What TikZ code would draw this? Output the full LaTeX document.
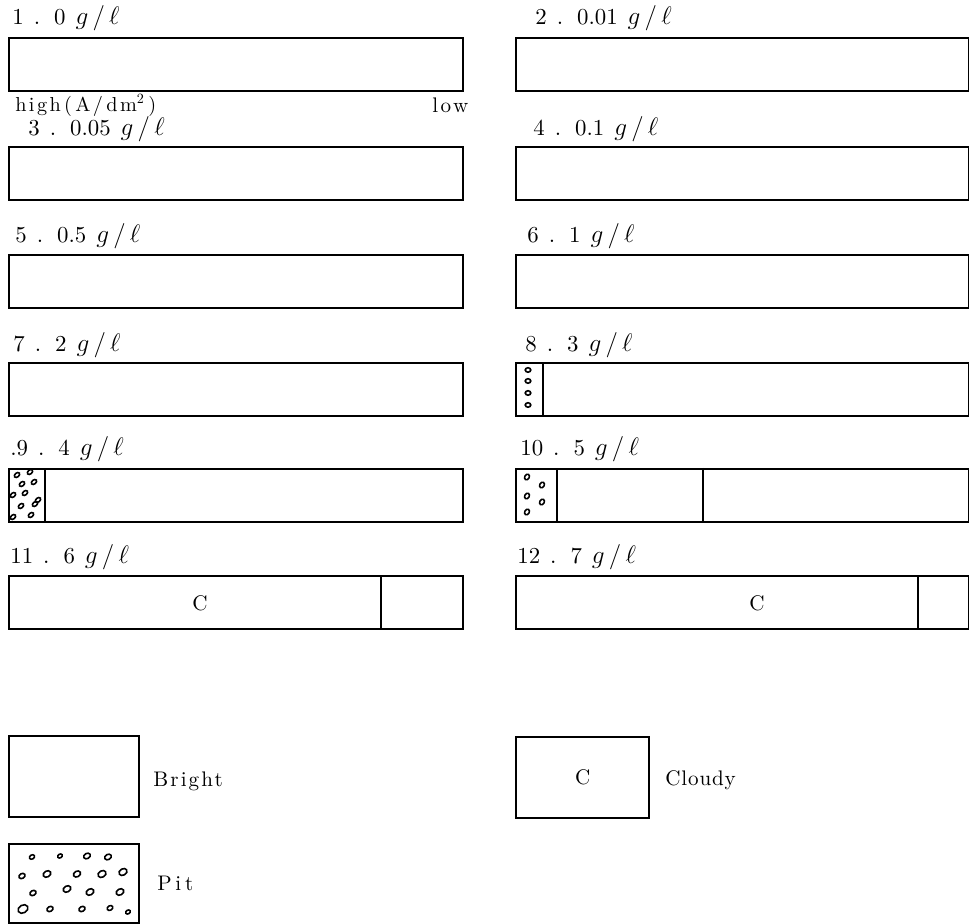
\documentclass[tikz,border=0pt]{standalone}
\usepackage{fontspec}
\setmainfont{lmroman10-regular.otf}[
  BoldFont=lmroman10-bold.otf,
  ItalicFont=lmroman10-italic.otf
]
\newcommand{\conc}[2]{#1\hspace{2mm}.\hspace{2.8mm}#2\hspace{2mm}{\fontsize{14pt}{16pt}\selectfont$g\,/\,\ell$}}
\tikzset{
  spaced/.style={font={\fontsize{12pt}{14pt}\selectfont\addfontfeature{LetterSpace=#1}}}
}
\begin{document}
\begin{tikzpicture}[
  x=0.2mm, y=-0.2mm,
  bar/.style={
    draw,
    line width=1.3pt,
    anchor=north west,
    inner sep=0pt,
    minimum height=10.6mm
  },
  lbl/.style={anchor=west, inner sep=0pt, font=\fontsize{13pt}{15pt}\selectfont},
  pit/.style={line width=0.9pt}
]
\useasboundingbox (0,0) rectangle (969,924);

\node[lbl] (l1) at (12,18) {\conc{1}{0}};
\node[lbl] (l2) at (535,18) {\conc{2}{0.01}};
\node[bar, minimum width=90.8mm] (b1) at (8,37) {};
\node[bar, minimum width=90.6mm] (b2) at (515,37) {};

\node[lbl, font={\fontsize{11.5pt}{13pt}\selectfont\addfontfeature{LetterSpace=12}}] (hi) at (15,105) {high\,(\,A/\,dm\textsuperscript{2}\,)};
\node[lbl, spaced=12] (lo) at (432,105) {low};

\node[lbl] (l3) at (28,129) {\conc{3}{0.05}};
\node[lbl] (l4) at (533,129) {\conc{4}{0.1}};
\node[bar, minimum width=90.8mm] (b3) at (8,146) {};
\node[bar, minimum width=90.6mm] (b4) at (515,146) {};

\node[lbl] (l5) at (15,236) {\conc{5}{0.5}};
\node[lbl] (l6) at (527,236) {\conc{6}{1}};
\node[bar, minimum width=90.8mm] (b5) at (8,254) {};
\node[bar, minimum width=90.6mm] (b6) at (515,254) {};

\node[lbl] (l7) at (13,345) {\conc{7}{2}};
\node[lbl] (l8) at (525,345) {\conc{8}{3}};
\node[bar, minimum width=90.8mm] (b7) at (8,362) {};
\node[bar, minimum width=90.6mm] (b8) at (515,362) {};
\node[bar, minimum width=5.4mm] (p8) at (515,362) {};

\node[lbl] (l9) at (10,449) {\conc{.9}{4}};
\node[lbl] (l10) at (520,449) {\conc{10}{5}};
\node[bar, minimum width=90.8mm] (b9) at (8,468) {};
\node[bar, minimum width=7.2mm] (p9) at (8,468) {};
\node[bar, minimum width=90.6mm] (b10) at (515,468) {};
\node[bar, minimum width=8.2mm] (p10) at (515,468) {};
\draw[line width=0.6pt] (703,468) -- (703,521);

\node[lbl] (l11) at (10,557) {\conc{11}{6}};
\node[lbl] (l12) at (517,557) {\conc{12}{7}};
\node[bar, minimum width=90.8mm] (b11) at (8,575) {};
\node[bar, minimum width=16.4mm] (r11) at (380,575) {};
\node[font=\fontsize{12pt}{14pt}\selectfont] (c11) at (200,603) {C};
\node[bar, minimum width=90.6mm] (b12) at (515,575) {};
\node[bar, minimum width=10.2mm] (r12) at (917,575) {};
\node[font=\fontsize{12pt}{14pt}\selectfont] (c12) at (757,603) {C};

\foreach \y in {370,381,393,405}
  \draw[pit] (528,\y) circle[x radius=0.55mm, y radius=0.45mm];
\foreach \x/\y in {17/475,30/472,22/484,34/482,13/495,25/493,38/500,21/506,35/504,13/517,31/515}
  \draw[pit] (\x,\y) circle[x radius=0.6mm, y radius=0.4mm, rotate=40];
\foreach \x/\y in {527/477,542/485,527/496,542/502,527/512}
  \draw[pit] (\x,\y) circle[x radius=0.6mm, y radius=0.45mm, rotate=60];

\node[bar, minimum width=26mm, minimum height=16.2mm] (kb) at (8,735) {};
\node[lbl, spaced=10] (tb) at (153,781) {Bright};
\node[bar, minimum width=26.6mm, minimum height=16.2mm,
  font=\fontsize{12pt}{14pt}\selectfont] (kc) at (515,736) {C};
\node[lbl, spaced=4] (tc) at (665,780) {Cloudy};
\node[bar, minimum width=26mm, minimum height=15.8mm] (kp) at (8,843) {};
\node[lbl, spaced=18] (tp) at (157,883) {Pit};
\foreach \x/\y/\s in {32/857/0.55,60/856/0.5,87/856/0.7,108/857/0.7,22/876/0.65,47/874/0.8,77/874/0.75,102/874/0.85,123/872/0.85,33/893/0.65,67/889/0.8,90/892/0.8,120/892/0.8,23/909/1.05,50/909/0.65,82/909/0.65,110/908/0.6,128/912/0.5}
  \draw[line width=0.9pt] (\x,\y) circle[x radius=\s*1mm, y radius=\s*0.75mm, rotate=30];
\end{tikzpicture}
\end{document}
